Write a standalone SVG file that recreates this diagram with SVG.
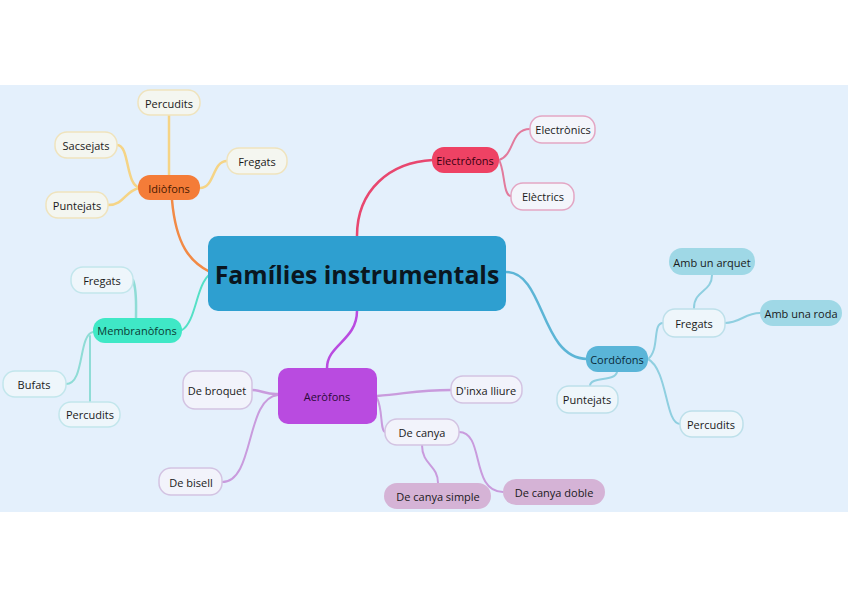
<svg xmlns="http://www.w3.org/2000/svg" width="848" height="599" viewBox="0 0 848 599">
<style>
text{font-family:"Open Sans","Noto Sans","Liberation Sans",sans-serif;font-size:11px;fill:#1a1a1a;text-anchor:middle;dominant-baseline:central}
.leaf{stroke-width:1.5}
.c{fill:none;stroke-linecap:round}
.idio{fill:#f4f6f0;stroke:#efe3bd}
.elec{fill:#f3f5fb;stroke:#e3a6c4}
.memb{fill:#eef6fb;stroke:#c2e6ec}
.aero{fill:#f2f3fb;stroke:#d3c3e2}
.cord{fill:#eef6fb;stroke:#bde0ea}
</style>
<rect x="0" y="0" width="848" height="599" fill="#ffffff"/>
<rect x="0" y="85" width="848" height="427" fill="#e4f0fc"/>
<g id="connectors">
  <path class="c" d="M172,200 C176,245 190,262 210,272" stroke="#f28a45" stroke-width="2.5"/>
  <path class="c" d="M357,236 C357,190 390,162 433,160" stroke="#e8476f" stroke-width="2.5"/>
  <path class="c" d="M182,330 C196,322 196,285 210,274" stroke="#55e0c6" stroke-width="2"/>
  <path class="c" d="M357,311 C357,340 327,345 327,368" stroke="#b94be0" stroke-width="2.5"/>
  <path class="c" d="M506,272 C545,272 540,358 587,359" stroke="#5cb5d6" stroke-width="2.5"/>
  <path class="c" d="M169,115 L169,176" stroke="#f5d486" stroke-width="2.5"/>
  <path class="c" d="M117,145 C130,145 125,185 140,188" stroke="#f5d486" stroke-width="2.5"/>
  <path class="c" d="M108,205 C125,205 125,190 140,188" stroke="#f5d486" stroke-width="2.5"/>
  <path class="c" d="M227,161 C212,161 215,188 200,188" stroke="#f5d486" stroke-width="2.5"/>
  <path class="c" d="M499,160 C515,155 510,129 530,129" stroke="#e27a9c" stroke-width="2"/>
  <path class="c" d="M499,160 C505,170 503,196 511,196" stroke="#e27a9c" stroke-width="2"/>
  <path class="c" d="M133,280 C137,290 136,305 136,318" stroke="#8fdcd6" stroke-width="2.5"/>
  <path class="c" d="M66,384 C85,384 78,335 93,332" stroke="#8fdcd6" stroke-width="2"/>
  <path class="c" d="M90,402 L90,336" stroke="#8fdcd6" stroke-width="2"/>
  <path class="c" d="M252,390 C262,390 266,395 278,394" stroke="#c99bdd" stroke-width="2.5"/>
  <path class="c" d="M222,482 C255,482 245,398 278,395" stroke="#c99bdd" stroke-width="2"/>
  <path class="c" d="M377,396 C410,393 420,390 451,390" stroke="#c99bdd" stroke-width="2.5"/>
  <path class="c" d="M377,398 C383,410 380,430 385,432" stroke="#c99bdd" stroke-width="2"/>
  <path class="c" d="M422,445 C422,465 438,465 438,483" stroke="#c99bdd" stroke-width="2"/>
  <path class="c" d="M459,432 C485,432 470,492 503,492" stroke="#c99bdd" stroke-width="2"/>
  <path class="c" d="M648,359 C660,350 652,323 663,323" stroke="#8fcfe0" stroke-width="2"/>
  <path class="c" d="M648,359 C668,370 665,424 680,424" stroke="#8fcfe0" stroke-width="2"/>
  <path class="c" d="M617,372 C615,382 590,376 590,386" stroke="#8fcfe0" stroke-width="2"/>
  <path class="c" d="M694,308 C694,290 712,292 712,275" stroke="#8fcfe0" stroke-width="2"/>
  <path class="c" d="M725,323 C740,323 745,313 760,313" stroke="#8fcfe0" stroke-width="2"/>
</g>
<g id="central">
  <rect x="208" y="236" width="298" height="75" rx="10" fill="#2e9fd0"/>
  <text x="357" y="274" style="font-size:24.8px;font-weight:bold;fill:#0a1620">Famílies instrumentals</text>
</g>
<g id="idiofons">
  <rect x="138" y="175" width="62" height="25" rx="12" fill="#f47c38"/>
  <text x="169" y="188" style="fill:#4a1a00">Idiòfons</text>
</g>
<g id="idio-percudits"><rect class="leaf idio" x="138" y="90" width="62" height="25" rx="12"/><text x="169" y="103">Percudits</text></g>
<g id="idio-sacsejats"><rect class="leaf idio" x="55" y="132" width="62" height="26" rx="12"/><text x="86" y="145">Sacsejats</text></g>
<g id="idio-fregats"><rect class="leaf idio" x="227" y="148" width="60" height="26" rx="12"/><text x="257" y="161">Fregats</text></g>
<g id="idio-puntejats"><rect class="leaf idio" x="46" y="192" width="62" height="26" rx="12"/><text x="77" y="205">Puntejats</text></g>
<g id="electrofons">
  <rect x="432" y="147" width="67" height="26" rx="12" fill="#ee4264"/>
  <text x="465" y="160" style="fill:#3a0010">Electròfons</text>
</g>
<g id="elec-electronics"><rect class="leaf elec" x="530" y="116" width="65" height="27" rx="12"/><text x="563" y="129">Electrònics</text></g>
<g id="elec-electrics"><rect class="leaf elec" x="511" y="183" width="63" height="27" rx="12"/><text x="543" y="196">Elèctrics</text></g>
<g id="membranofons">
  <rect x="93" y="318" width="89" height="25" rx="12" fill="#3fe8c6"/>
  <text x="137" y="330" style="fill:#0a3b34">Membranòfons</text>
</g>
<g id="memb-fregats"><rect class="leaf memb" x="71" y="267" width="62" height="26" rx="12"/><text x="102" y="280">Fregats</text></g>
<g id="memb-bufats"><rect class="leaf memb" x="3" y="371" width="63" height="26" rx="12"/><text x="34" y="384">Bufats</text></g>
<g id="memb-percudits"><rect class="leaf memb" x="59" y="402" width="61" height="25" rx="12"/><text x="90" y="414">Percudits</text></g>
<g id="aerofons">
  <rect x="278" y="368" width="99" height="56" rx="10" fill="#b94be0"/>
  <text x="327" y="396" style="fill:#2c0a3a">Aeròfons</text>
</g>
<g id="aero-broquet"><rect class="leaf aero" x="183" y="371" width="69" height="38" rx="12"/><text x="217" y="390">De broquet</text></g>
<g id="aero-bisell"><rect class="leaf aero" x="159" y="468" width="63" height="27" rx="12"/><text x="191" y="482">De bisell</text></g>
<g id="aero-inxa"><rect class="leaf aero" x="451" y="376" width="71" height="27" rx="12"/><text x="486" y="390">D'inxa lliure</text></g>
<g id="aero-canya"><rect class="leaf aero" x="385" y="419" width="74" height="26" rx="12"/><text x="422" y="432">De canya</text></g>
<g id="aero-simple"><rect x="384" y="483" width="107" height="26" rx="13" fill="#d5b3d6"/><text x="438" y="496">De canya simple</text></g>
<g id="aero-doble"><rect x="503" y="479" width="102" height="26" rx="13" fill="#d5b3d6"/><text x="554" y="492">De canya doble</text></g>
<g id="cordofons">
  <rect x="586" y="346" width="62" height="26" rx="12" fill="#5ab5d8"/>
  <text x="617" y="359" style="fill:#0a2a3a">Cordòfons</text>
</g>
<g id="cord-fregats"><rect class="leaf cord" x="663" y="309" width="62" height="28" rx="12"/><text x="694" y="323">Fregats</text></g>
<g id="cord-arquet"><rect x="669" y="248" width="86" height="27" rx="13" fill="#9fd8e6"/><text x="712" y="262">Amb un arquet</text></g>
<g id="cord-roda"><rect x="760" y="300" width="82" height="26" rx="13" fill="#9fd8e6"/><text x="801" y="313">Amb una roda</text></g>
<g id="cord-puntejats"><rect class="leaf cord" x="557" y="386" width="61" height="27" rx="12"/><text x="587" y="399">Puntejats</text></g>
<g id="cord-percudits"><rect class="leaf cord" x="680" y="411" width="63" height="26" rx="12"/><text x="711" y="424">Percudits</text></g>
</svg>
